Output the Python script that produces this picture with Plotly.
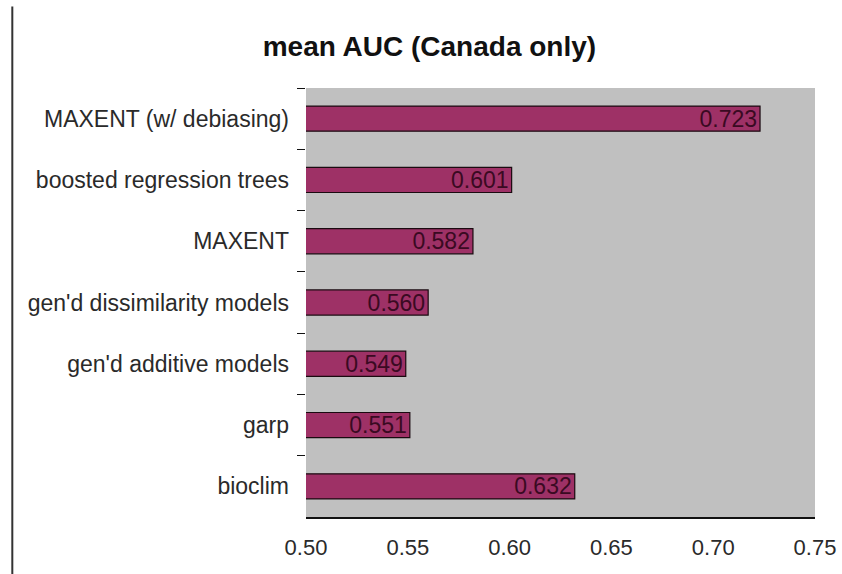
import plotly.graph_objects as go

categories = ["MAXENT (w/ debiasing)", "boosted regression trees", "MAXENT",
              "gen'd dissimilarity models", "gen'd additive models", "garp", "bioclim"]
auc_values = [0.723, 0.601, 0.582, 0.560, 0.549, 0.551, 0.632]
x_ticks = [0.50, 0.55, 0.60, 0.65, 0.70, 0.75]
title_text = "mean AUC (Canada only)"

fig = go.Figure(go.Bar(
    x=auc_values, y=categories, orientation="h",
    width=0.41,
    marker=dict(color="#9e3166", line=dict(color="#1a0a10", width=1.2)),
    text=[f"{v:.3f}" for v in auc_values],
    textposition="inside", insidetextanchor="end", constraintext="none",
    textfont=dict(family="Liberation Sans, Arial", size=23, color="#3a0a22"),
    cliponaxis=True,
))

fig.update_layout(
    width=842, height=574,
    margin=dict(l=306, r=27, t=88, b=57),
    paper_bgcolor="white", plot_bgcolor="#c0c0c0",
    font=dict(family="Liberation Sans, Arial", size=23, color="#2a2a2a"),
    title=dict(text="<b>" + title_text + "</b>", x=0.51, xref="container", xanchor="center",
               y=0.92, yref="container", yanchor="middle",
               font=dict(size=28, color="#111111")),
    showlegend=False,
    bargap=0.6,
)

fig.update_xaxes(range=[0.5, 0.75], tickvals=x_ticks, ticktext=[f"{t:.2f}" for t in x_ticks],
                 showgrid=False, zeroline=False, showline=True, linecolor="#111111", linewidth=1.5,
                 ticks="outside", ticklen=10, tickcolor="rgba(0,0,0,0)", fixedrange=True,
                 automargin=False, tickfont=dict(size=22))
fig.update_yaxes(categoryorder="array", categoryarray=categories, autorange="reversed",
                 showgrid=False, zeroline=False, showline=False, automargin=False,
                 ticks="outside", tickson="boundaries", ticklen=8, tickcolor="#111111", tickwidth=1.2,
                 ticklabelstandoff=16)

fig.add_shape(type="line", xref="paper", yref="paper",
              x0=-0.577, x1=-0.577, y0=1.19, y1=-0.14,
              line=dict(color="#333333", width=2))

fig.write_html("out.html")
